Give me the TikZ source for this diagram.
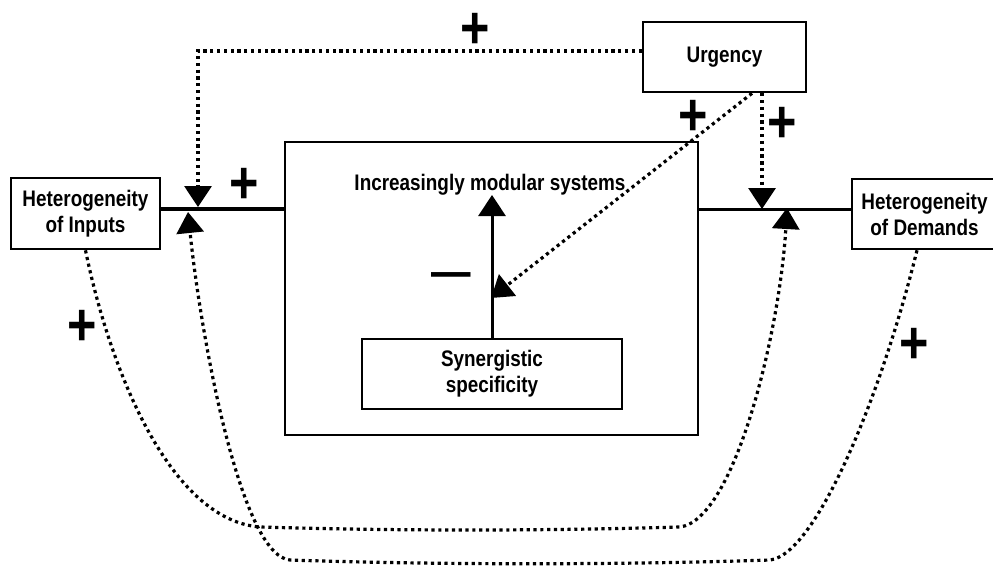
\documentclass[tikz,border=0pt]{standalone}
\usepackage{fontspec}
\setmainfont{Liberation Sans}[FakeStretch=0.84]
\usetikzlibrary{arrows.meta}
\newcommand\lblfont{\fontsize{22.5}{26}\selectfont\bfseries}
\newcommand\sgnfont{\fontsize{60}{60}\selectfont\bfseries}
\newcommand\minfont{\fontsize{47}{47}\selectfont\bfseries}
\begin{document}
\begin{tikzpicture}[x=1pt,y=-1pt,
  box/.style={draw, line width=2.6pt, inner sep=0pt, align=center, font=\lblfont},
  dotline/.style={line width=3.2pt, dash pattern=on 3.2pt off 3.6pt},
  tri/.style={-{Triangle[width=27pt,length=21pt]}},
  sign/.style={inner sep=0pt, font=\sgnfont},
  solidline/.style={line width=3pt}]
\clip (0,0) rectangle (993,567);
\fill[white] (0,0) rectangle (993,567);
% nodes
\node[box, minimum width=149pt, minimum height=71pt] (inp) at (85.5,213.5) {Heterogeneity\\of Inputs};
\node[box, minimum width=145pt, minimum height=70pt] (dem) at (924.5,214) {Heterogeneity\\of Demands};
\node[box, minimum width=163pt, minimum height=70pt] (urg) at (724.5,57) {Urgency};
\node[draw, line width=2.6pt, minimum width=413pt, minimum height=293pt, inner sep=0pt] (big) at (491.5,288.5) {};
\node[box, line width=2.2pt, minimum width=260pt, minimum height=70pt] (syn) at (492,374) {Synergistic\\specificity};
\node[inner sep=0pt, anchor=base, font=\lblfont] (mod) at (490,190) {Increasingly modular systems};
% junction coordinates
\coordinate (jL) at (198,209);
\coordinate (jR) at (762,209);
\coordinate (tipLd) at (198,207);
\coordinate (tipLu) at (188,212);
\coordinate (tipRd) at (762,209);
\coordinate (tipRu) at (787,208);
\coordinate (cornerL) at (198,51);
\coordinate (modTip) at (492,195);
\coordinate (diagTip) at (491,298);
% solid connectors
\draw[line width=4.6pt] (inp.east |- jL) -- (big.west |- jL);
\draw[solidline] (big.east |- jR) -- (dem.west |- jR);
\draw[solidline, tri] (syn.north -| modTip) -- (modTip);
% dotted influence connectors
\draw[dotline, tri] ([yshift=6pt]urg.west) -- (cornerL) -- (tipLd);
\draw[dotline, tri] (urg.south -| tipRd) -- (tipRd);
\draw[dotline, tri] ([xshift=27.5pt]urg.south) -- (diagTip);
\draw[dotline, tri] (inp.south) .. controls (110,370) and (170,520) .. (260,527)
  .. controls (400,531) and (540,531) .. (680,527)
  .. controls (735,520) and (780,330) .. (tipRu);
\draw[dotline, tri] ([xshift=-7.5pt]dem.south) .. controls (880,400) and (815,555) .. (770,560)
  .. controls (620,565) and (440,565) .. (290,560)
  .. controls (240,556) and (200,330) .. (tipLu);
% signs
\node[sign] (p1) at (475,31) {+};
\node[sign] (p2) at (244,186) {+};
\node[sign] (p3) at (693,118) {+};
\node[sign] (p4) at (782,125) {+};
\node[sign] (p5) at (82,328) {+};
\node[sign] (p6) at (914,346) {+};
\node[inner sep=0pt, font=\minfont] (m1) at (451,280) {—};
\end{tikzpicture}
\end{document}
